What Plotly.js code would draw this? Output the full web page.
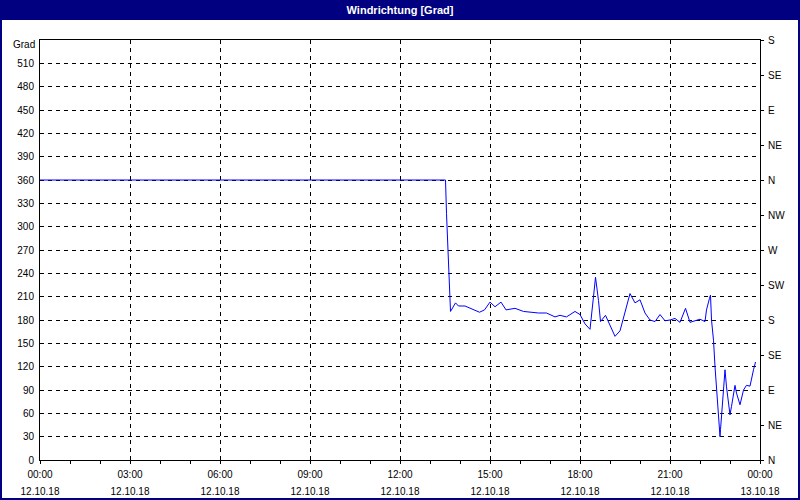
<!DOCTYPE html>
<html>
<head>
<meta charset="utf-8">
<script src="https://cdn.plot.ly/plotly-3.0.1.min.js"></script>
<style>html,body{margin:0;padding:0;background:#fff;}#chart{width:800px;height:500px;}</style>
</head>
<body>
<div id="chart"></div>
<script>
// Data: time of day on 12.10.2018 and wind direction in degrees
const day = '2018-10-12';
const times = ['00:00','13:31','13:33','13:36','13:39','13:40','13:41','13:51','13:57','14:10','14:27','14:39','14:49','15:00','15:10','15:22','15:32','15:50','16:07','16:37','16:53','17:10','17:20','17:33','17:50','18:00','18:10','18:20','18:27','18:31','18:37','18:41','18:51','19:10','19:20','19:40','19:50','20:00','20:10','20:20','20:30','20:40','20:50','21:00','21:10','21:20','21:31','21:40','21:50','22:00','22:10','22:13','22:19','22:21','22:23','22:27','22:30','22:33','22:35','22:38','22:40','22:41','22:43','22:47','22:50','22:53','22:57','23:00','23:03','23:07','23:10','23:13','23:20','23:27','23:33','23:40','23:43','23:47','23:51'];
const degrees = [360,360,317,274,240,210,191,202,198,198,193,190,193,203,197,203,193,195,191,189,189,184,186,184,191,187,175,168,210,235,205,178,186,159,166,214,202,206,189,180,178,187,179,180,182,177,195,177,179,181,178,193,208,212,180,154,120,94,73,51,30,39,56,90,116,94,77,58,69,86,96,86,71,90,96,95,105,116,126];
const leftTickVals = [0,30,60,90,120,150,180,210,240,270,300,330,360,390,420,450,480,510,540];
const leftTickText = ['0','30','60','90','120','150','180','210','240','270','300','330','360','390','420','450','480','510',''];
const unitLabel = 'Grad';
const compassVals = [0,45,90,135,180,225,270,315,360,405,450,495,540];
const compassText = ['N','NE','E','SE','S','SW','W','NW','N','NE','E','SE','S'];
const xRange = ['2018-10-12 00:00','2018-10-13 00:00'];

const xs = times.map(t => day + ' ' + t);
const font = {family: 'Liberation Sans, Arial, sans-serif', size: 10, color: '#000'};
const W = 720, H = 420;

const traces = [
  {x: xs, y: degrees, type: 'scatter', mode: 'lines', line: {color: '#0000ff', width: 1}, hoverinfo: 'skip', showlegend: false},
  {x: [xs[0]], y: [0], xaxis: 'x2', yaxis: 'y2', type: 'scatter', mode: 'markers', marker: {opacity: 0}, hoverinfo: 'skip', showlegend: false}
];

const layout = {
  width: 800, height: 500,
  margin: {l: 40, r: 40, t: 40, b: 40, pad: 0},
  paper_bgcolor: '#ffffff', plot_bgcolor: '#ffffff',
  font: font,
  showlegend: false,
  title: {text: '<b>Windrichtung [Grad]</b>', x: 0.5, xanchor: 'center', y: 0.98, yref: 'container', yanchor: 'middle',
          font: {family: 'Liberation Sans, Arial, sans-serif', size: 11, color: '#ffffff'}},
  xaxis: {
    type: 'date', range: xRange, dtick: 3 * 3600000, tick0: xRange[0], tickformat: '%H:%M',
    showgrid: true, gridcolor: '#000', gridwidth: 1, griddash: '4px,4px',
    showline: true, linecolor: '#000', linewidth: 1, mirror: true,
    ticks: 'outside', ticklen: 3, tickcolor: '#000', ticklabelstandoff: 2,
    minor: {dtick: 3600000, tick0: xRange[0], ticks: 'outside', ticklen: 3, tickcolor: '#000', showgrid: false},
    zeroline: false, tickfont: font, fixedrange: true
  },
  xaxis2: {
    type: 'date', range: xRange, dtick: 3 * 3600000, tick0: xRange[0], tickformat: '%d.%m.%y',
    overlaying: 'x', side: 'bottom', anchor: 'y',
    showgrid: false, showline: false, ticks: '', ticklabelstandoff: 24,
    zeroline: false, tickfont: font, fixedrange: true
  },
  yaxis: {
    range: [0, 540], tickmode: 'array', tickvals: leftTickVals, ticktext: leftTickText,
    showgrid: true, gridcolor: '#000', gridwidth: 1, griddash: '4px,4px',
    showline: true, linecolor: '#000', linewidth: 1, mirror: true,
    ticks: '', ticklabelstandoff: 3, zeroline: false, tickfont: font, fixedrange: true
  },
  yaxis2: {
    range: [0, 540], tickmode: 'array', tickvals: compassVals, ticktext: compassText,
    overlaying: 'y', side: 'right', anchor: 'x',
    showgrid: false, showline: false, ticks: 'outside', ticklen: 3, tickcolor: '#000',
    ticklabelstandoff: 2, zeroline: false, tickfont: font, fixedrange: true
  },
  annotations: [
    {text: unitLabel, xref: 'paper', yref: 'paper', x: -3 / W, y: 415 / H, xanchor: 'right', yanchor: 'middle',
     showarrow: false, font: font}
  ],
  shapes: [
    {type: 'rect', xref: 'paper', yref: 'paper', x0: -40 / W, x1: 760 / W, y0: 440 / H, y1: 460 / H,
     fillcolor: '#000080', line: {width: 0}, layer: 'below'},
    {type: 'rect', xref: 'paper', yref: 'paper', x0: -39 / W, x1: 759 / W, y0: -39 / H, y1: 459 / H,
     fillcolor: 'rgba(0,0,0,0)', line: {color: '#000080', width: 2}, layer: 'above'}
  ]
};

Plotly.newPlot('chart', traces, layout, {displayModeBar: false, staticPlot: true});
</script>
</body>
</html>
